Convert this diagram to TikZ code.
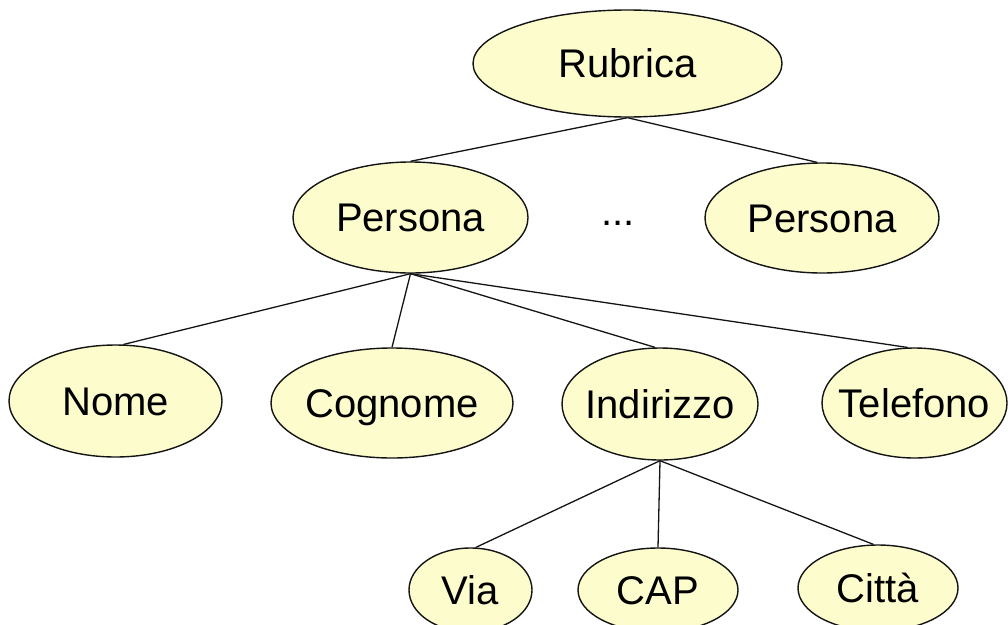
\documentclass[tikz,border=0pt]{standalone}
\usepackage{fontspec}
\setmainfont{Liberation Sans}
\usetikzlibrary{shapes.geometric}
% Text centred on the ellipse without enlarging it
\newcommand{\ovaltext}[1]{\makebox[0pt]{\raisebox{-0.358em}[0pt][0pt]{#1}}}
\definecolor{ovalfill}{RGB}{252,252,204}
\definecolor{ovalline}{RGB}{20,20,20}
\begin{document}
\begin{tikzpicture}[x=1pt,y=-1pt,
  oval/.style={ellipse,draw=ovalline,line width=1.4pt,fill=ovalfill,inner sep=0pt,
    font=\fontsize{40}{48}\selectfont},
  link/.style={draw=ovalline,line width=1.3pt}]
\useasboundingbox (0,0) rectangle (1008,624);
% hierarchy of the address book
\node[oval,minimum width=309pt,minimum height=107pt] (rub) at (627.5,63.5) {\ovaltext{Rubrica}};
\node[oval,minimum width=235pt,minimum height=111pt] (pl) at (410.5,217.5) {\ovaltext{Persona}};
\node[oval,minimum width=234pt,minimum height=110pt] (pr) at (822,218) {\ovaltext{Persona}};
\node[anchor=base,inner sep=0pt,font=\fontsize{40}{48}\selectfont] (dots) at (618,225) {...};
\node[oval,minimum width=213pt,minimum height=112pt] (nome) at (115.5,401) {\ovaltext{Nome}};
\node[oval,minimum width=242pt,minimum height=110pt] (cog) at (392,403) {\ovaltext{Cognome}};
\node[oval,minimum width=196pt,minimum height=112pt] (ind) at (660,404) {\ovaltext{Indirizzo}};
\node[oval,minimum width=185pt,minimum height=110pt] (tel) at (914.5,403) {\ovaltext{Telefono}};
\node[oval,minimum width=123pt,minimum height=84pt] (via) at (470.5,590) {\ovaltext{Via}};
\node[oval,minimum width=160pt,minimum height=84pt] (cap) at (658,590) {\ovaltext{CAP}};
\node[oval,minimum width=160pt,minimum height=86pt] (cit) at (878,588) {\ovaltext{Città}};
% connectors
\draw[link] (rub.south) -- (pl.north);
\draw[link] (rub.south) -- (pr.95);
\draw[link] (pl.south) -- (nome.82);
\draw[link] (pl.south) -- (cog.north);
\draw[link] (pl.south) -- (ind.95);
\draw[link] (pl.south) -- (tel.97);
\draw[link] (ind.south) -- (via.83);
\draw[link] (ind.south) -- (cap.north);
\draw[link] (ind.south) -- (cit.96);
\end{tikzpicture}
\end{document}
